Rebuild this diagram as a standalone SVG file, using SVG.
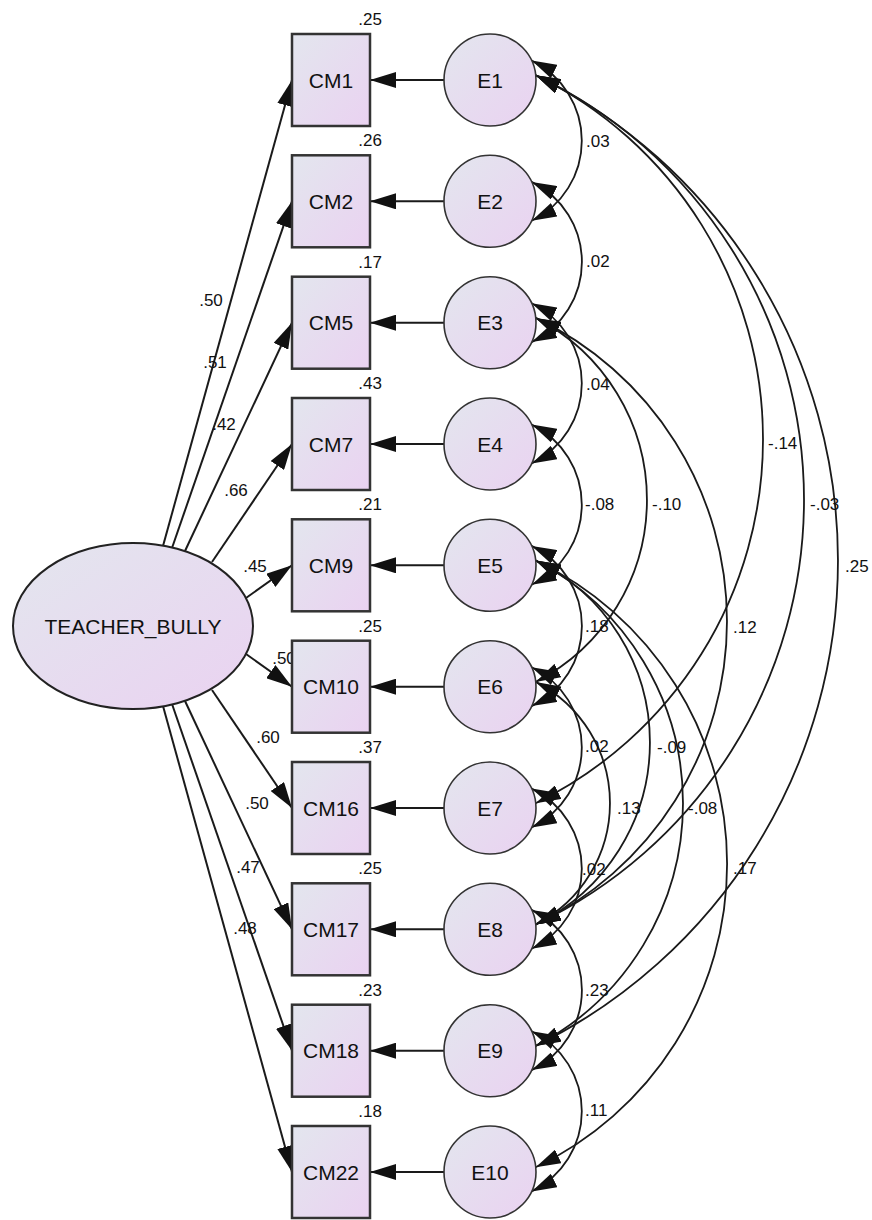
<svg xmlns="http://www.w3.org/2000/svg" width="872" height="1220" viewBox="0 0 872 1220">
<style>
.bx{fill:url(#g);stroke:#333;stroke-width:2.5}
.ci{fill:url(#g);stroke:#333;stroke-width:1.6}
.lv{fill:url(#g);stroke:#222;stroke-width:2}
.nt{font-family:"Liberation Sans",Arial,sans-serif;font-size:21px;fill:#111;text-anchor:middle}
.sm{font-family:"Liberation Sans",Arial,sans-serif;font-size:17px;fill:#111}
.mid{text-anchor:middle}
.end{text-anchor:end}
.ld{fill:none;stroke:#1a1a1a;stroke-width:2;marker-end:url(#ah)}
.cv{fill:none;stroke:#1a1a1a;stroke-width:1.8;marker-start:url(#ac);marker-end:url(#ac)}
</style>
<defs>
<linearGradient id="g" x1="0" y1="0" x2="1" y2="1">
<stop offset="0" stop-color="#E3E6EE"/>
<stop offset="1" stop-color="#EAD2F1"/>
</linearGradient>
<marker id="ah" viewBox="0 0 26 16" refX="26" refY="8" markerWidth="26" markerHeight="16" markerUnits="userSpaceOnUse" orient="auto-start-reverse">
<path d="M0,0 L26,8 L0,16 z" fill="#111"/>
</marker>
<marker id="ac" viewBox="0 0 25 15" refX="25" refY="7.5" markerWidth="25" markerHeight="15" markerUnits="userSpaceOnUse" orient="auto-start-reverse">
<path d="M0,0 L25,7.5 L0,15 z" fill="#111"/>
</marker>
</defs>

<g id="connectors">
<!-- loadings -->
<path class="ld" d="M163,546 L292,80"/>
<path class="ld" d="M172,548 L292,201.3"/>
<path class="ld" d="M185,551 L292,322.7"/>
<path class="ld" d="M212,562 L292,444"/>
<path class="ld" d="M246,598 L292,565.3"/>
<path class="ld" d="M246,654 L292,686.7"/>
<path class="ld" d="M212,690 L292,808"/>
<path class="ld" d="M185,701 L292,929.3"/>
<path class="ld" d="M172,704 L292,1050.7"/>
<path class="ld" d="M163,706 L292,1172"/>
<!-- errors -->
<path class="ld" d="M444,80 L370,80"/>
<path class="ld" d="M444,201.3 L370,201.3"/>
<path class="ld" d="M444,322.7 L370,322.7"/>
<path class="ld" d="M444,444 L370,444"/>
<path class="ld" d="M444,565.3 L370,565.3"/>
<path class="ld" d="M444,686.7 L370,686.7"/>
<path class="ld" d="M444,808 L370,808"/>
<path class="ld" d="M444,929.3 L370,929.3"/>
<path class="ld" d="M444,1050.7 L370,1050.7"/>
<path class="ld" d="M444,1172 L370,1172"/>
<!-- adjacent covariances -->
<path class="cv" d="M531.7,60.6 A89,89 0 0 1 531.7,220.7"/>
<path class="cv" d="M531.7,181.9 A89,89 0 0 1 531.7,342.1"/>
<path class="cv" d="M531.7,303.3 A89,89 0 0 1 531.7,463.4"/>
<path class="cv" d="M531.7,424.6 A89,89 0 0 1 531.7,584.7"/>
<path class="cv" d="M531.7,545.9 A89,89 0 0 1 531.7,706.1"/>
<path class="cv" d="M531.7,667.3 A89,89 0 0 1 531.7,827.4"/>
<path class="cv" d="M531.7,788.6 A89,89 0 0 1 531.7,948.7"/>
<path class="cv" d="M531.7,909.9 A89,89 0 0 1 531.7,1070.1"/>
<path class="cv" d="M531.7,1031.3 A89,89 0 0 1 531.7,1191.4"/>
<!-- long covariances -->
<path class="cv" d="M535.7,75.2 A405.1,405.1 0 0 1 535.7,803.2"/>
<path class="cv" d="M535.7,75.2 A470.2,470.2 0 0 1 535.7,924.5"/>
<path class="cv" d="M535.7,75.2 A540.8,540.8 0 0 1 535.7,1045.9"/>
<path class="cv" d="M535.7,317.9 A204.5,204.5 0 0 1 535.7,681.9"/>
<path class="cv" d="M535.7,317.9 A336.1,336.1 0 0 1 535.7,924.5"/>
<path class="cv" d="M535.7,560.5 A202.1,202.1 0 0 1 535.7,924.5"/>
<path class="cv" d="M535.7,560.5 A273.6,273.6 0 0 1 535.7,1045.9"/>
<path class="cv" d="M535.7,560.5 A336.1,336.1 0 0 1 535.7,1167.2"/>
<path class="cv" d="M535.7,681.9 A136.2,136.2 0 0 1 535.7,924.5"/>
<!-- loading labels -->
<text class="sm mid" x="211" y="306">.50</text>
<text class="sm mid" x="215" y="368">.51</text>
<text class="sm mid" x="224" y="430">.42</text>
<text class="sm mid" x="236" y="496">.66</text>
<text class="sm mid" x="255" y="572">.45</text>
<text class="sm mid" x="284" y="664">.50</text>
<text class="sm mid" x="268" y="743">.60</text>
<text class="sm mid" x="257" y="809">.50</text>
<text class="sm mid" x="248" y="873">.47</text>
<text class="sm mid" x="245" y="934">.48</text>
<!-- covariance labels -->
<text class="sm" x="586" y="146.5">.03</text>
<text class="sm" x="586" y="267">.02</text>
<text class="sm" x="586" y="390">.04</text>
<text class="sm" x="585" y="510">-.08</text>
<text class="sm" x="585" y="632">.18</text>
<text class="sm" x="585" y="752">.02</text>
<text class="sm" x="582" y="875">.02</text>
<text class="sm" x="585" y="996">.23</text>
<text class="sm" x="585" y="1116">.11</text>
<text class="sm" x="652" y="510">-.10</text>
<text class="sm" x="768" y="449">-.14</text>
<text class="sm" x="810" y="510">-.03</text>
<text class="sm" x="845" y="572">.25</text>
<text class="sm" x="733" y="633">.12</text>
<text class="sm" x="657" y="753">-.09</text>
<text class="sm" x="617" y="814">.13</text>
<text class="sm" x="688" y="814">-.08</text>
<text class="sm" x="733" y="874">.17</text>
</g>

<g id="TEACHER_BULLY">
<ellipse class="lv" cx="133" cy="626" rx="120" ry="83"/>
<text class="nt" x="133" y="633.5">TEACHER_BULLY</text>
</g>

<g id="CM1"><rect class="bx" x="292" y="34" width="78" height="92"/><text class="nt" x="331" y="87.5">CM1</text><text class="sm end" x="382" y="25">.25</text></g>
<g id="CM2"><rect class="bx" x="292" y="155.3" width="78" height="92"/><text class="nt" x="331" y="208.8">CM2</text><text class="sm end" x="382" y="146.3">.26</text></g>
<g id="CM5"><rect class="bx" x="292" y="276.7" width="78" height="92"/><text class="nt" x="331" y="330.2">CM5</text><text class="sm end" x="382" y="267.7">.17</text></g>
<g id="CM7"><rect class="bx" x="292" y="398" width="78" height="92"/><text class="nt" x="331" y="451.5">CM7</text><text class="sm end" x="382" y="389">.43</text></g>
<g id="CM9"><rect class="bx" x="292" y="519.3" width="78" height="92"/><text class="nt" x="331" y="572.8">CM9</text><text class="sm end" x="382" y="510.3">.21</text></g>
<g id="CM10"><rect class="bx" x="292" y="640.7" width="78" height="92"/><text class="nt" x="331" y="694.2">CM10</text><text class="sm end" x="382" y="631.7">.25</text></g>
<g id="CM16"><rect class="bx" x="292" y="762" width="78" height="92"/><text class="nt" x="331" y="815.5">CM16</text><text class="sm end" x="382" y="753">.37</text></g>
<g id="CM17"><rect class="bx" x="292" y="883.3" width="78" height="92"/><text class="nt" x="331" y="936.8">CM17</text><text class="sm end" x="382" y="874.3">.25</text></g>
<g id="CM18"><rect class="bx" x="292" y="1004.7" width="78" height="92"/><text class="nt" x="331" y="1058.2">CM18</text><text class="sm end" x="382" y="995.7">.23</text></g>
<g id="CM22"><rect class="bx" x="292" y="1126" width="78" height="92"/><text class="nt" x="331" y="1179.5">CM22</text><text class="sm end" x="382" y="1117">.18</text></g>

<g id="E1"><circle class="ci" cx="490" cy="80" r="46"/><text class="nt" x="490" y="87.5">E1</text></g>
<g id="E2"><circle class="ci" cx="490" cy="201.3" r="46"/><text class="nt" x="490" y="208.8">E2</text></g>
<g id="E3"><circle class="ci" cx="490" cy="322.7" r="46"/><text class="nt" x="490" y="330.2">E3</text></g>
<g id="E4"><circle class="ci" cx="490" cy="444" r="46"/><text class="nt" x="490" y="451.5">E4</text></g>
<g id="E5"><circle class="ci" cx="490" cy="565.3" r="46"/><text class="nt" x="490" y="572.8">E5</text></g>
<g id="E6"><circle class="ci" cx="490" cy="686.7" r="46"/><text class="nt" x="490" y="694.2">E6</text></g>
<g id="E7"><circle class="ci" cx="490" cy="808" r="46"/><text class="nt" x="490" y="815.5">E7</text></g>
<g id="E8"><circle class="ci" cx="490" cy="929.3" r="46"/><text class="nt" x="490" y="936.8">E8</text></g>
<g id="E9"><circle class="ci" cx="490" cy="1050.7" r="46"/><text class="nt" x="490" y="1058.2">E9</text></g>
<g id="E10"><circle class="ci" cx="490" cy="1172" r="46"/><text class="nt" x="490" y="1179.5">E10</text></g>
</svg>
